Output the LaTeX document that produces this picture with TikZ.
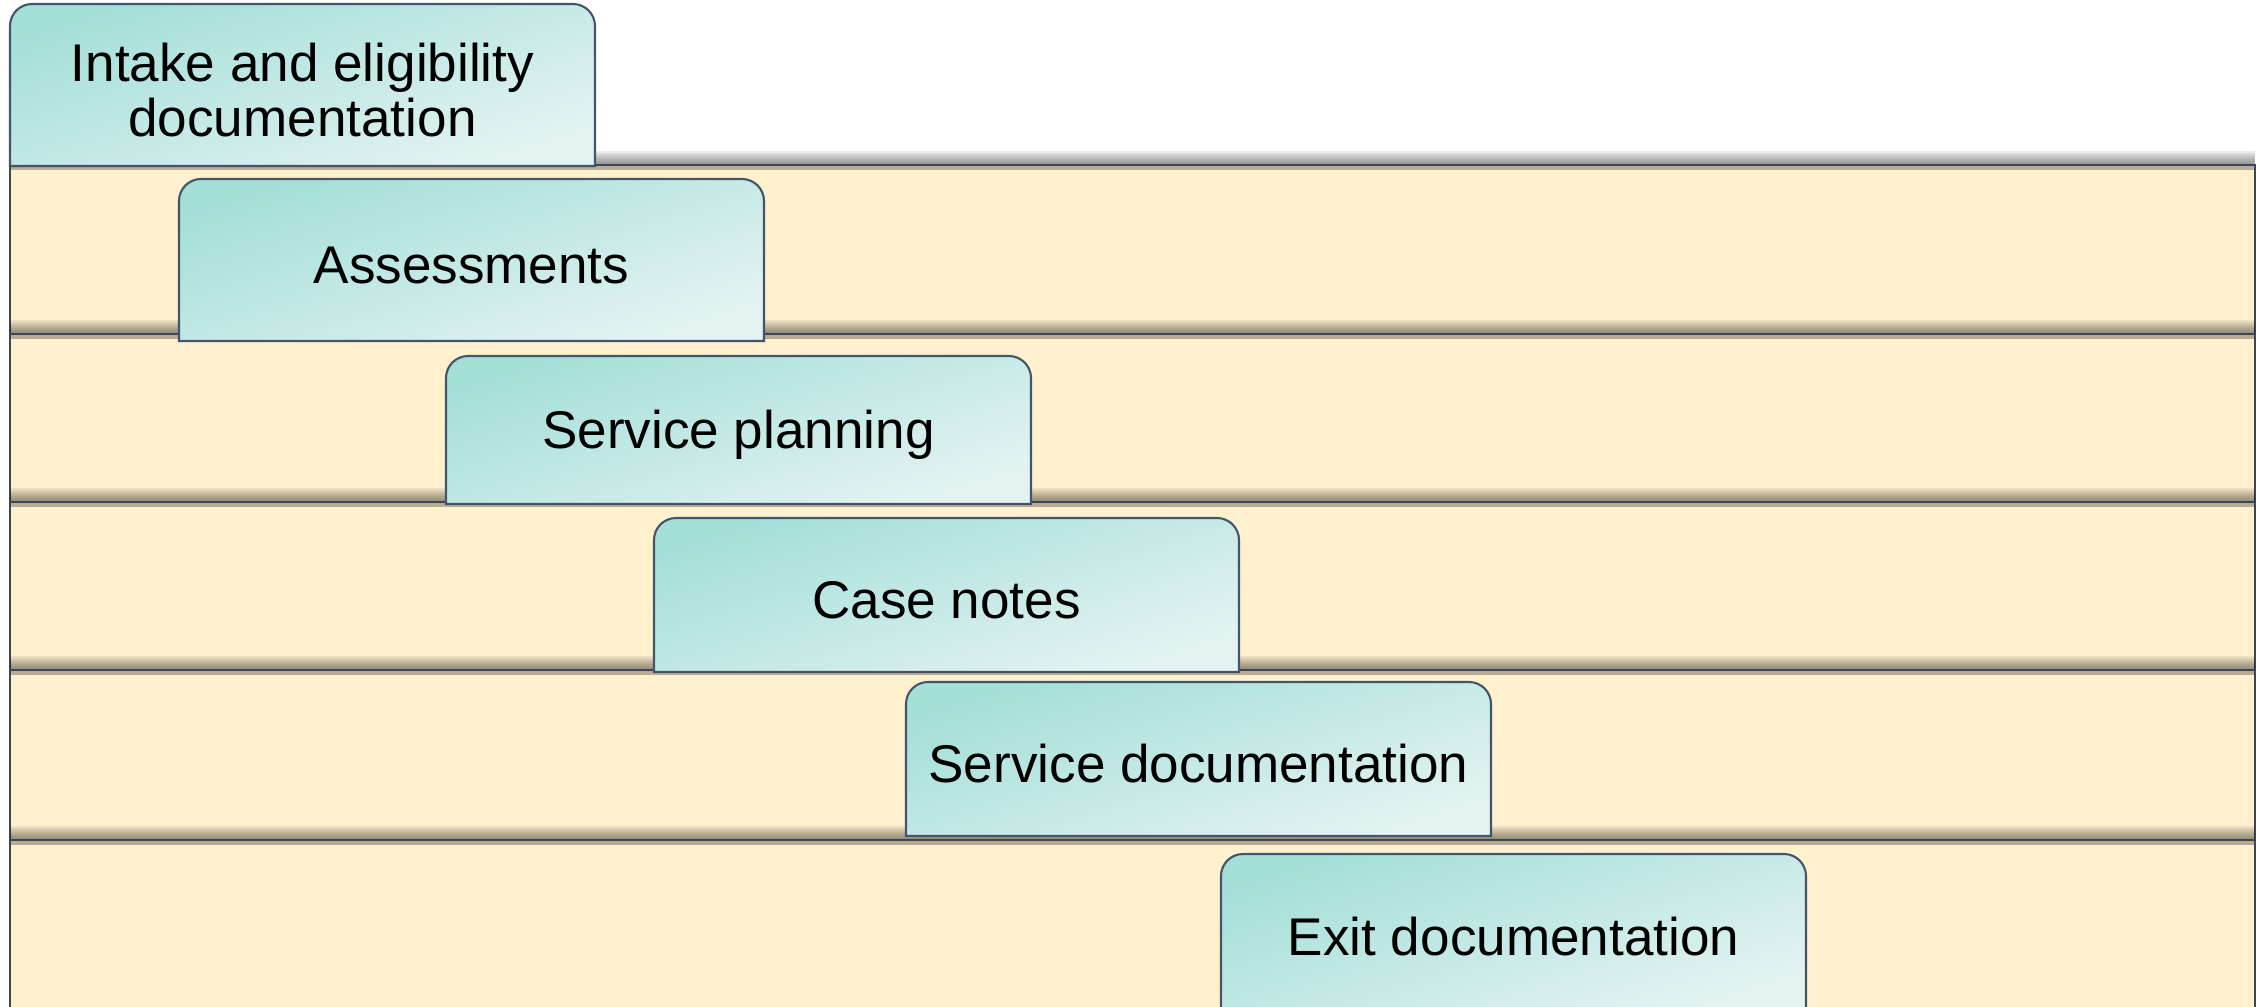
\documentclass[tikz,border=0pt]{standalone}
\usepackage{fontspec}
\setmainfont{Liberation Sans}
\usepackage{tikz}

\definecolor{bandfill}{RGB}{255,240,206}
\definecolor{bandedge}{RGB}{59,70,87}
\definecolor{tabedge}{RGB}{68,84,106}
\definecolor{tabdark}{RGB}{164,223,216}
\definecolor{tablight}{RGB}{228,243,242}

\tikzset{
  bandline/.style={draw=bandedge, line width=0.8pt},
  tabbox/.style={draw=tabedge, line width=0.6pt, top color=tabdark, bottom color=tablight, shading angle=18},
  tablabel/.style={align=center, text=black, yshift=-0.05cm, font=\fontsize{15.1}{15.6}\selectfont}
}

\begin{document}
\begin{tikzpicture}
        \useasboundingbox (0,0) rectangle (22.65,10.06);
        \clip (0,0) rectangle (22.65,10.06);

        % --- BANDS (top edge / bottom edge) ---
        \foreach \btop/\bbot in {8.41/6.72, 6.72/5.04, 5.04/3.36, 3.36/1.66, 1.66/-0.3}
        {
            \fill[bandfill] (0.10,\bbot) rectangle (22.55,\btop);
            % soft shadow along the top edge
            \foreach \s in {1,...,7}
                \fill[black, opacity=0.07] (0.10,\btop) rectangle (22.55,\btop+\s*0.02);
            \fill[black, opacity=0.28] (0.10,\btop) rectangle (22.55,\btop-0.05);
            \draw[bandline] (0.10,\bbot) -- (0.10,\btop) -- (22.55,\btop) -- (22.55,\bbot);
        }

        % --- TABS (left / top / bottom / name / text) ---
        \foreach \tx/\ttop/\tbot/\tname/\ttext in {
            0.10/10.02/8.40/intake/{Intake and eligibility\\documentation},
            1.79/8.27/6.65/assess/Assessments,
            4.46/6.50/5.02/planning/Service planning,
            6.54/4.88/3.34/casenotes/Case notes,
            9.06/3.24/1.70/servdoc/Service documentation,
            12.21/1.52/-0.04/exitdoc/Exit documentation}
        {
            \draw[tabbox] (\tx,\tbot) -- (\tx,\ttop-0.22)
                arc[start angle=180, end angle=90, radius=0.22] -- (\tx+5.63,\ttop)
                arc[start angle=90, end angle=0, radius=0.22] -- (\tx+5.85,\tbot) -- cycle;
            \node[tablabel] (\tname) at (\tx+2.925,{(\ttop+\tbot)/2}) {\ttext};
        }

    \end{tikzpicture}
\end{document}
